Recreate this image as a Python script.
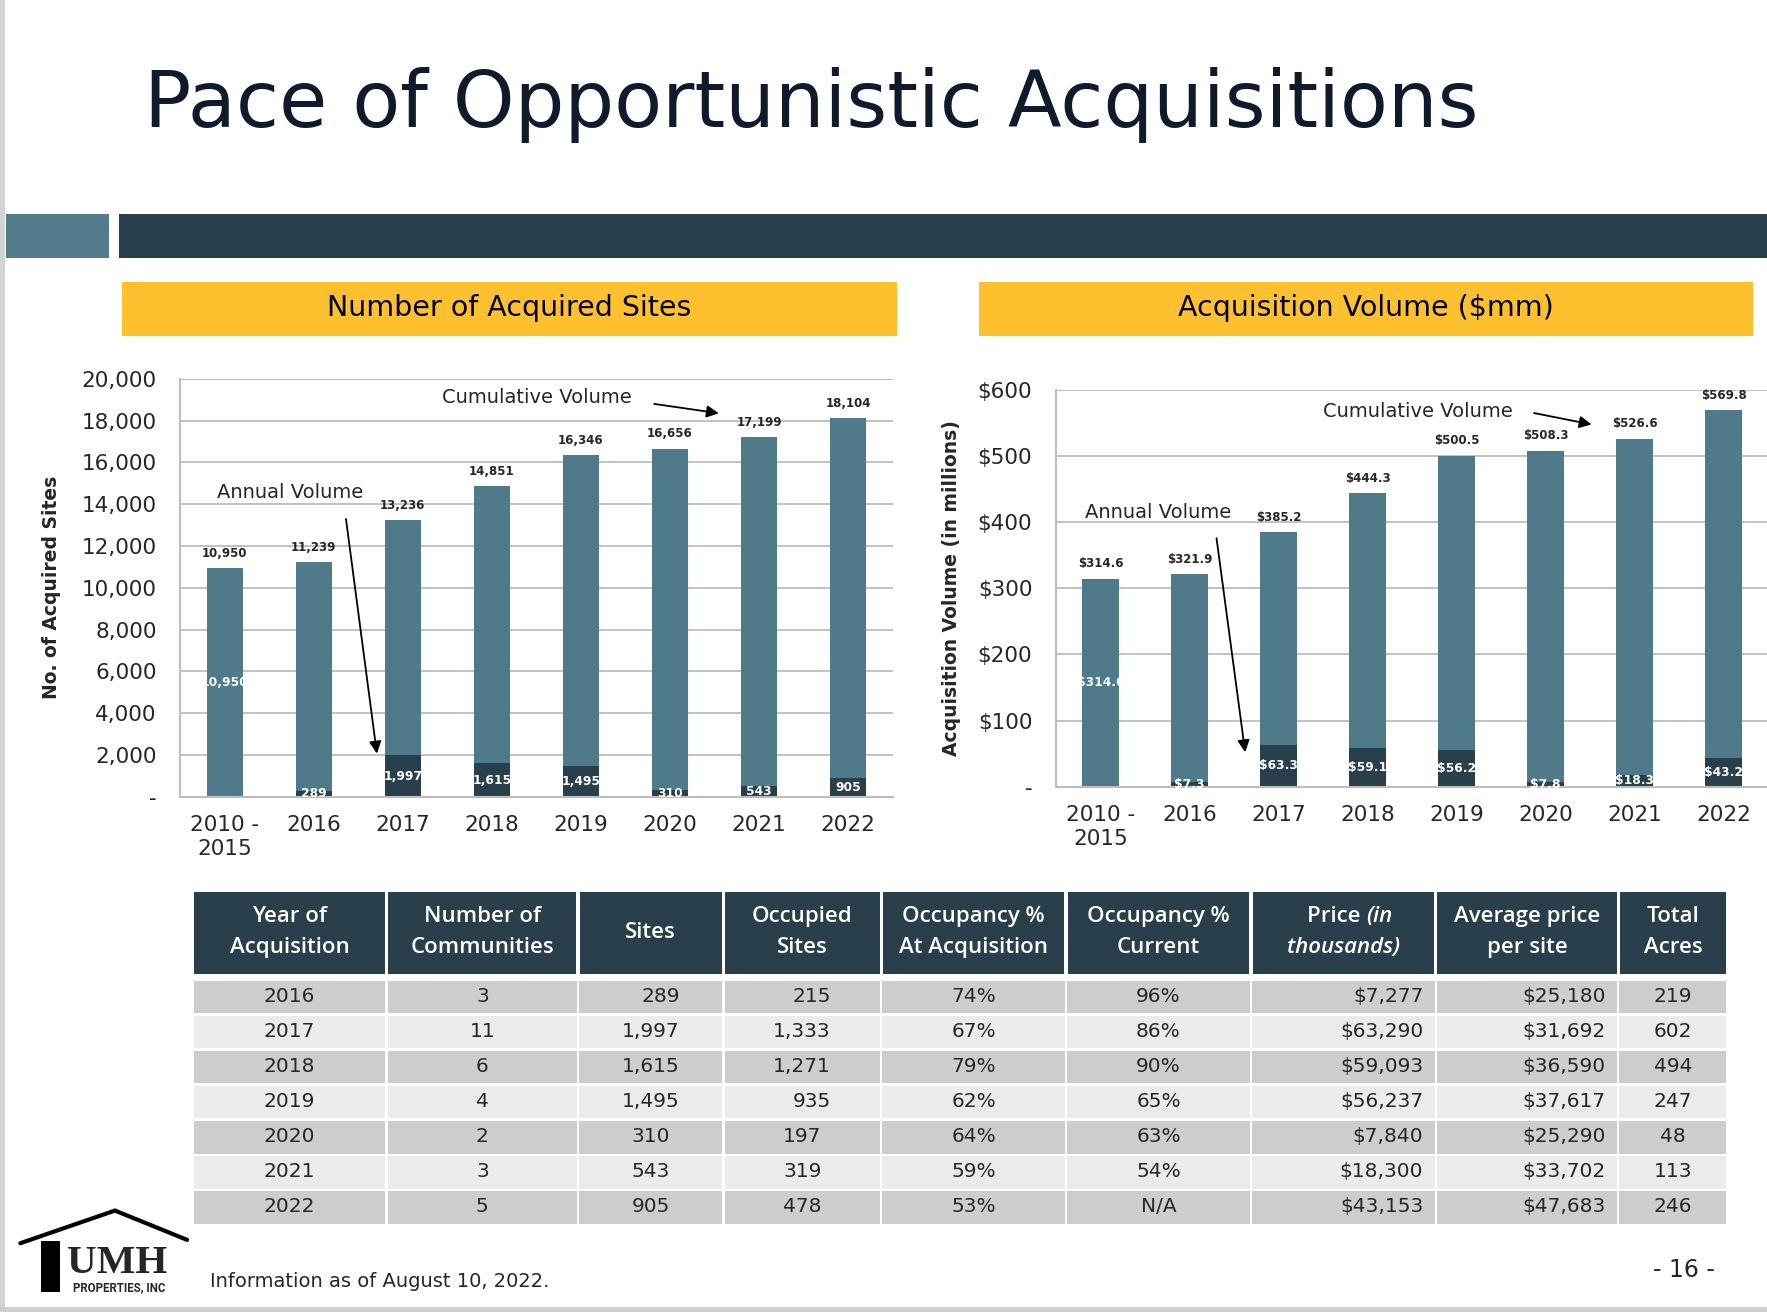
import numpy as np, pandas as pd, matplotlib.pyplot as plt, seaborn as sns
from matplotlib.patches import Rectangle
from matplotlib.lines import Line2D

# ==========================
# DATA
# ==========================
YEARS        = ["2010 -\n2015", "2016", "2017", "2018", "2019", "2020", "2021", "2022"]
SITES_CUM    = [10950, 11239, 13236, 14851, 16346, 16656, 17199, 18104]
SITES_ANNUAL = [10950, 289, 1997, 1615, 1495, 310, 543, 905]
VOL_CUM      = [314.6, 321.9, 385.2, 444.3, 500.5, 508.3, 526.6, 569.8]
VOL_ANNUAL   = [314.6, 7.3, 63.3, 59.1, 56.2, 7.8, 18.3, 43.2]
SITES_TICKS  = list(range(0, 20001, 2000))
VOL_TICKS    = list(range(0, 601, 100))

TAB_HEADER = [("Year of", "Acquisition"), ("Number of", "Communities"), ("Sites",),
              ("Occupied", "Sites"), ("Occupancy %", "At Acquisition"),
              ("Occupancy %", "Current"), ("Price (in", "thousands)"),
              ("Average price", "per site"), ("Total", "Acres")]
TAB_YEARS    = ["2016", "2017", "2018", "2019", "2020", "2021", "2022"]
TAB_COMM     = [3, 11, 6, 4, 2, 3, 5]
TAB_SITES    = [289, 1997, 1615, 1495, 310, 543, 905]
TAB_OCCUPIED = [215, 1333, 1271, 935, 197, 319, 478]
TAB_OCC_ACQ  = [74, 67, 79, 62, 64, 59, 53]
TAB_OCC_CUR  = ["96%", "86%", "90%", "65%", "63%", "54%", "N/A"]
TAB_PRICE    = [7277, 63290, 59093, 56237, 7840, 18300, 43153]
TAB_AVG      = [25180, 31692, 36590, 37617, 25290, 33702, 47683]
TAB_ACRES    = [219, 602, 494, 247, 48, 113, 246]

# ==========================
# STYLE
# ==========================
TEAL, DARK, YELLOW, NAVY = "#4f7a8a", "#28404c", "#fdc12f", "#0f1b2d"
GRID = "#bdbdbd"
sns.set_style("white")
plt.rcParams["font.family"] = ["DejaVu Sans"]
HDR_FONT = dict(family=["Open Sans", "DejaVu Sans"], fontweight="semibold", fontsize=16, color="white")

W, H = 1568, 1164          # layout grid (scaled to the 1767x1312 output)
fig = plt.figure(figsize=(17.67, 13.12), dpi=100)

def box(x0, y0, x1, y1):
    return [x0 / W, 1 - y1 / H, (x1 - x0) / W, (y1 - y0) / H]

# background layout axes
L = fig.add_axes([0, 0, 1, 1], zorder=0)
L.set_xlim(0, W); L.set_ylim(H, 0); L.axis("off")

L.add_patch(Rectangle((0, 0), 4, H, color="#d4d4d4", lw=0))
L.add_patch(Rectangle((0, 1160), W, 4, color="#cfcfcf", lw=0))
L.text(128, 113, "Pace of Opportunistic Acquisitions", fontsize=56.5, color=NAVY, va="baseline")
L.add_patch(Rectangle((5, 190), 92, 39, color="#527c8c", lw=0))
L.add_patch(Rectangle((106, 190), W - 106, 39, color="#2a3f4c", lw=0))
L.add_patch(Rectangle((108, 250), 688, 48, color=YELLOW, lw=0))
L.add_patch(Rectangle((869, 250), 687, 48, color=YELLOW, lw=0))
L.text(452, 273, "Number of Acquired Sites", fontsize=20.5, ha="center", va="center", color="black")
L.text(1212, 273, "Acquisition Volume ($mm)", fontsize=20.5, ha="center", va="center", color="black")

# ==========================
# CHARTS
# ==========================
def draw_chart(ax, cum, annual, ticks, ylim, tick_fmt, val_fmt, ylabel, label_x):
    df = pd.DataFrame({"year": YEARS, "cum": cum, "annual": annual})
    sns.barplot(data=df, x="year", y="cum", color=TEAL, width=0.41, saturation=1,
                linewidth=0, ax=ax)
    sns.barplot(data=df, x="year", y="annual", hue="year", palette=[TEAL] + [DARK] * 7,
                width=0.41, saturation=1, linewidth=0, legend=False, ax=ax)
    ax.set_xlim(-0.5, 7.5); ax.set_ylim(*ylim)
    ax.set_yticks(ticks)
    ax.set_yticklabels(["-"] + [tick_fmt(t) for t in ticks[1:]], fontsize=15.5)
    ax.set_xticks(range(len(YEARS)))
    ax.set_xticklabels(YEARS, fontsize=15.5, linespacing=1.25)
    ax.set_xticks(np.arange(-0.5, 8.0, 1.0), minor=True)
    ax.tick_params(axis="x", which="major", length=0, pad=13)
    ax.tick_params(axis="x", which="minor", length=6, width=1.3, color=GRID, direction="out")
    ax.tick_params(axis="y", length=0, pad=17)
    ax.grid(axis="y", color=GRID, lw=1.3); ax.set_axisbelow(True)
    for s in ["top", "right"]:
        ax.spines[s].set_visible(False)
    for s in ["left", "bottom"]:
        ax.spines[s].set_color(GRID); ax.spines[s].set_linewidth(1.5)
    ax.set_xlabel("")
    ax.set_ylabel(ylabel, fontsize=13.5, fontweight="bold")
    ax.yaxis.set_label_coords(label_x, 0.5)
    for i, (c, a) in enumerate(zip(cum, annual)):
        ax.annotate(val_fmt(c), (i, c), xytext=(0, 6), textcoords="offset points",
                    ha="center", va="bottom", fontsize=8.5, fontweight="bold")
        ax.text(i, a / 2, val_fmt(a), ha="center", va="center", fontsize=8.8,
                color="white", fontweight="bold")

ax1 = fig.add_axes(box(160, 336, 792, 707), zorder=2)
draw_chart(ax1, SITES_CUM, SITES_ANNUAL, SITES_TICKS, (0, 20000), lambda t: f"{t:,}",
           lambda v: f"{v:,}", "No. of Acquired Sites", -0.168)
ax1.text(0.735, 14555, "Annual Volume", fontsize=14, ha="center", va="center")
ax1.annotate("", xy=(1.712, 1941), xytext=(1.357, 13423),
             arrowprops=dict(arrowstyle="-|>", color="black", lw=1.3, mutation_scale=18))
ax1.text(3.5, 19083, "Cumulative Volume", fontsize=14, ha="center", va="center")
ax1.annotate("", xy=(5.58, 18329), xytext=(4.793, 18814),
             arrowprops=dict(arrowstyle="-|>", color="black", lw=1.3, mutation_scale=18))

ax2 = fig.add_axes(box(937, 346, 1569, 698), zorder=2)
draw_chart(ax2, VOL_CUM, VOL_ANNUAL, VOL_TICKS, (0, 600), lambda t: f"${t}",
           lambda v: f"${v:.1f}", "Acquisition Volume (in millions)", -0.133)
ax2.text(0.644, 414, "Annual Volume", fontsize=14, ha="center", va="center")
ax2.annotate("", xy=(1.63, 48), xytext=(1.30, 380),
             arrowprops=dict(arrowstyle="-|>", color="black", lw=1.3, mutation_scale=18))
ax2.text(3.563, 567, "Cumulative Volume", fontsize=14, ha="center", va="center")
ax2.annotate("", xy=(5.547, 547), xytext=(4.84, 566),
             arrowprops=dict(arrowstyle="-|>", color="black", lw=1.3, mutation_scale=18))

# ==========================
# TABLE
# ==========================
COLS = [171, 343, 513, 642, 782, 946, 1110, 1274, 1436, 1533]
for j, hdr in enumerate(TAB_HEADER):
    x0, x1 = COLS[j] + 1.5, COLS[j + 1] - 1.5
    L.add_patch(Rectangle((x0, 791), x1 - x0, 73, color="#2a3f4c", lw=0))
    cx = (x0 + x1) / 2
    if len(hdr) == 1:
        L.text(cx, 827, hdr[0], ha="center", va="center", **HDR_FONT)
    elif j == 6:
        L.text(cx + 20, 813, "Price ", ha="right", va="center", **HDR_FONT)
        L.text(cx + 20, 813, "(in", ha="left", va="center", style="italic", **HDR_FONT)
        L.text(cx, 841, hdr[1], ha="center", va="center", style="italic", **HDR_FONT)
    else:
        L.text(cx, 813, hdr[0], ha="center", va="center", **HDR_FONT)
        L.text(cx, 841, hdr[1], ha="center", va="center", **HDR_FONT)

rows = list(zip(TAB_YEARS, TAB_COMM, TAB_SITES, TAB_OCCUPIED, TAB_OCC_ACQ, TAB_OCC_CUR,
                TAB_PRICE, TAB_AVG, TAB_ACRES))
for i, r in enumerate(rows):
    y0 = 870 + i * 31.1
    yc = y0 + 14
    shade = "#cdcdcd" if i % 2 == 0 else "#ebebeb"
    for j in range(9):
        L.add_patch(Rectangle((COLS[j] + 1, y0), COLS[j + 1] - COLS[j] - 2, 29, color=shade, lw=0))
    txt = [r[0], str(r[1]), f"{r[2]:,}", f"{r[3]:,}", f"{r[4]}%", r[5],
           f"${r[6]:,}", f"${r[7]:,}", str(r[8])]
    for j, t in enumerate(txt):
        cx = (COLS[j] + COLS[j + 1]) / 2
        if j == 2 and i < 4:
            L.text(603, yc, t, fontsize=14.5, ha="right", va="center")
        elif j == 3 and i < 4:
            L.text(737, yc, t, fontsize=14.5, ha="right", va="center")
        elif j in (6, 7):
            L.text(COLS[j + 1] - 11, yc, t, fontsize=14.5, ha="right", va="center")
        else:
            L.text(cx, yc, t, fontsize=14.5, ha="center", va="center")

# ==========================
# FOOTER + LOGO
# ==========================
L.text(186, 1137, "Information as of August 10, 2022.", fontsize=14, va="center")
L.text(1494, 1127, "- 16 -", fontsize=17, ha="center", va="center")
L.add_line(Line2D([18, 102, 166], [1103, 1074, 1100], color="black", lw=3,
                  solid_joinstyle="miter"))
L.add_patch(Rectangle((36, 1101), 17, 45, color="black", lw=0))
L.text(104, 1121, "UMH", family="Liberation Serif", fontweight="bold", fontsize=29.5,
       ha="center", va="center")
L.text(106, 1142, "PROPERTIES, INC", family=["Roboto", "DejaVu Sans"],
       fontweight="bold", fontsize=8.3, ha="center", va="center")

fig.savefig("out.png", dpi=100)
